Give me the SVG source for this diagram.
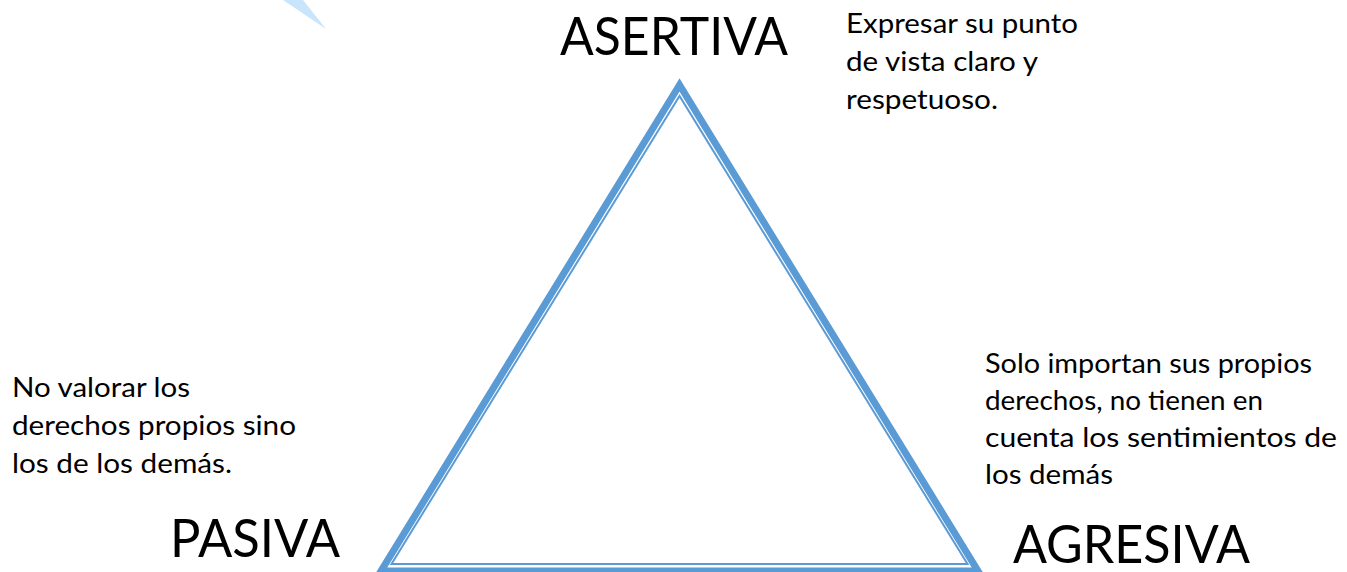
<svg xmlns="http://www.w3.org/2000/svg" width="1347" height="572" viewBox="0 0 1347 572">
<style>
.big{font-family:Lato,"Liberation Sans",sans-serif;font-size:52px;fill:#000}
.small{font-family:Lato,"Liberation Sans",sans-serif;font-size:27px;fill:#000}
.tri{fill:none;stroke:#5B9BD5;stroke-linejoin:miter}
</style>
<rect width="1347" height="572" fill="#fff"/>
<polygon points="283,0 303,0 326,29" fill="#C8E5FB"/>
<g id="connectors">
<polygon class="tri" points="679.5,85 381,571 978,571" stroke-width="7"/>
<polygon class="tri" points="679.5,96 391.5,564 967.5,564" stroke-width="2"/>
</g>
<g id="asertiva">
<text class="big" x="560" y="55" textLength="228" lengthAdjust="spacingAndGlyphs">ASERTIVA</text>
<text class="small" x="846" y="33" textLength="232" lengthAdjust="spacingAndGlyphs">Expresar su punto</text>
<text class="small" x="846" y="71" textLength="192" lengthAdjust="spacingAndGlyphs">de vista claro y</text>
<text class="small" x="846" y="109" textLength="152" lengthAdjust="spacingAndGlyphs">respetuoso.</text>
</g>
<g id="pasiva">
<text class="big" x="170" y="557" textLength="170" lengthAdjust="spacingAndGlyphs">PASIVA</text>
<text class="small" x="12" y="397" textLength="178" lengthAdjust="spacingAndGlyphs">No valorar los</text>
<text class="small" x="12" y="435" textLength="284" lengthAdjust="spacingAndGlyphs">derechos propios sino</text>
<text class="small" x="12" y="473" textLength="220" lengthAdjust="spacingAndGlyphs">los de los demás.</text>
</g>
<g id="agresiva">
<text class="big" x="1013" y="563" textLength="237" lengthAdjust="spacingAndGlyphs">AGRESIVA</text>
<text class="small" x="985" y="373" textLength="327" lengthAdjust="spacingAndGlyphs">Solo importan sus propios</text>
<text class="small" x="985" y="410" textLength="278" lengthAdjust="spacingAndGlyphs">derechos, no tienen en</text>
<text class="small" x="985" y="447" textLength="352" lengthAdjust="spacingAndGlyphs">cuenta los sentimientos de</text>
<text class="small" x="985" y="484" textLength="128" lengthAdjust="spacingAndGlyphs">los demás</text>
</g>
</svg>
